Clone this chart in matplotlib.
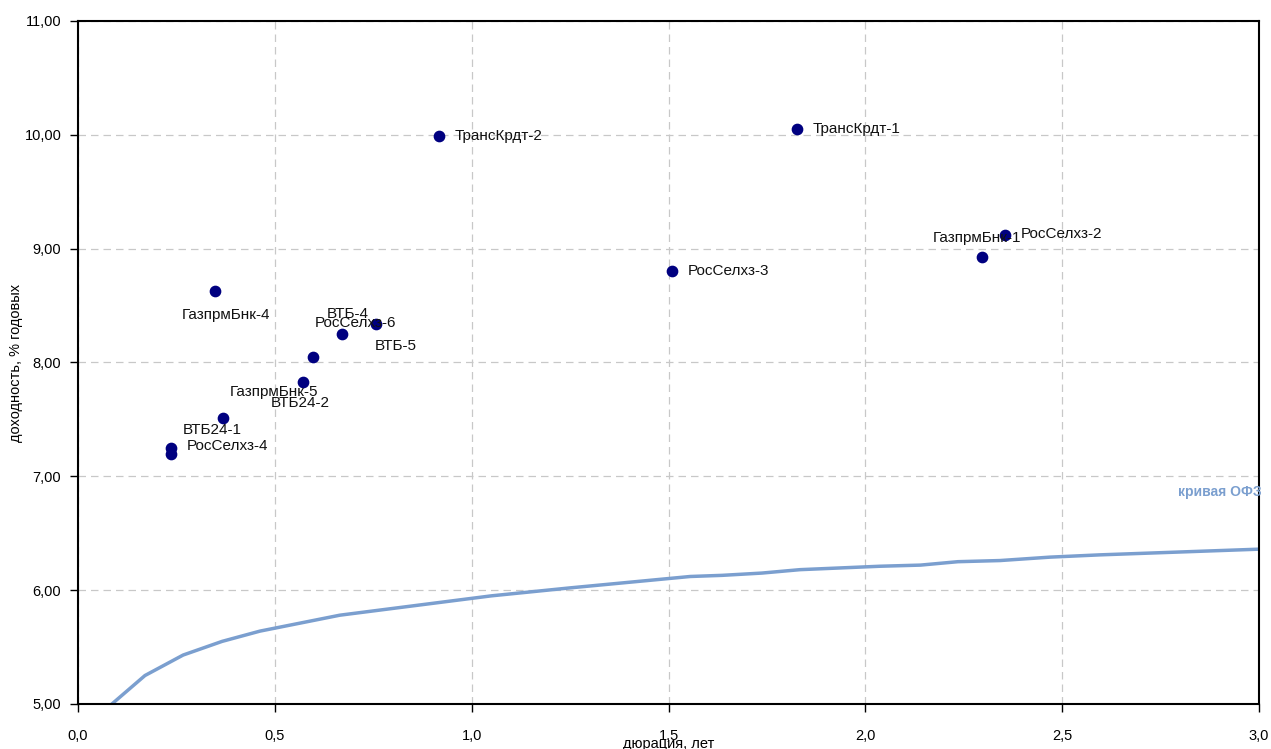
import matplotlib.pyplot as plt
from matplotlib.ticker import FuncFormatter, MultipleLocator

plt.rcParams['font.family'] = ['Liberation Sans', 'DejaVu Sans']

# -----------------------
# Data
# -----------------------
bond_names = ["ТрансКрдт-2", "ТрансКрдт-1", "РосСелхз-3", "ГазпрмБнк-1", "РосСелхз-2",
              "ГазпрмБнк-4", "ВТБ-4", "ВТБ-5", "РосСелхз-6", "ГазпрмБнк-5",
              "ВТБ24-2", "ВТБ24-1", "РосСелхз-4"]
bond_dur = [0.917, 1.826, 1.509, 2.296, 2.355,
            0.348, 0.671, 0.757, 0.597, 0.571,
            0.368, 0.236, 0.236]
bond_yld = [9.99, 10.05, 8.80, 8.93, 9.12,
            8.63, 8.25, 8.34, 8.05, 7.83,
            7.51, 7.25, 7.20]

ofz_dur = [0.086, 0.170, 0.267, 0.366, 0.462, 0.665, 1.05, 1.25, 1.555, 1.636,
           1.737, 1.834, 2.037, 2.14, 2.235, 2.342, 2.469, 2.596, 3.0]
ofz_yld = [5.00, 5.25, 5.43, 5.55, 5.64, 5.78, 5.95, 6.02, 6.12, 6.13,
           6.15, 6.18, 6.21, 6.22, 6.25, 6.26, 6.29, 6.31, 6.36]

# label placement (offset in pixels, up is positive, horizontal alignment)
label_pos = [(16, 0, 'left'), (16, 0, 'left'), (16, 0, 'left'), (-5, 19, 'center'), (16, 1, 'left'),
             (11, -24, 'center'), (6, 20, 'center'), (20, -22, 'center'), (42, 34, 'center'),
             (-29, -10, 'center'), (77, 15, 'center'), (41, 18, 'center'), (16, 8, 'left')]

LINE_COLOR = "#7b9fcf"

# -----------------------
# Plot
# -----------------------
fig = plt.figure(figsize=(12.71, 7.49), dpi=100)
ax = fig.add_axes([0.0614, 0.0601, 0.9292, 0.9119])

ax.plot(ofz_dur, ofz_yld, color=LINE_COLOR, lw=2.5, zorder=2)
ax.scatter(bond_dur, bond_yld, s=55, color="#000080", zorder=3)

for name, x, y, (dx, dy, ha) in zip(bond_names, bond_dur, bond_yld, label_pos):
    ax.annotate(name, (x, y), xytext=(dx * 0.72, dy * 0.72), textcoords='offset points',
                ha=ha, va='center', fontsize=11, color='#111111')

ax.text(2.90, 6.86, "кривая ОФЗ", color=LINE_COLOR, fontsize=10, fontweight='bold',
        ha='center', va='center', clip_on=False)

ax.set_xlim(0, 3.0)
ax.set_ylim(5, 11)
ax.xaxis.set_major_locator(MultipleLocator(0.5))
ax.yaxis.set_major_locator(MultipleLocator(1))
ax.xaxis.set_major_formatter(FuncFormatter(lambda v, p: f"{v:.1f}".replace('.', ',')))
ax.yaxis.set_major_formatter(FuncFormatter(lambda v, p: f"{v:.2f}".replace('.', ',')))

ax.grid(True, color='#c8c8c8', linestyle=(0, (6, 4)), lw=0.9)
ax.set_axisbelow(True)
for s in ax.spines.values():
    s.set_linewidth(1.5)
    s.set_color('black')
ax.tick_params(direction='out', length=6, width=1, labelsize=10.5, pad=6)
ax.tick_params(axis='x', pad=12)

ax.set_ylabel("доходность, % годовых", fontsize=10.5)
ax.yaxis.set_label_coords(-0.047, 0.5)
ax.set_xlabel("дюрация, лет", fontsize=10.5, labelpad=-4)

fig.savefig("out.png", dpi=100)
